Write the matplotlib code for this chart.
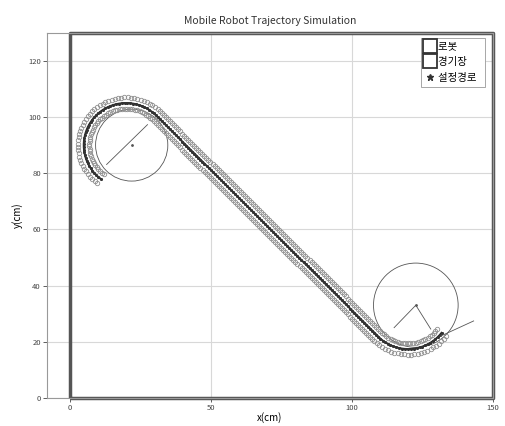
import numpy as np
import matplotlib.pyplot as plt
from matplotlib.lines import Line2D
from matplotlib.patches import Circle

plt.rcParams['font.family'] = ['Noto Sans CJK KR', 'DejaVu Sans']

# arena (경기장) corners, cm
arena_x = [0, 150, 150, 0, 0]
arena_y = [0, 0, 130, 130, 0]

# set path: arc -> straight line -> arc
# (center x, center y, radius, start deg, end deg)
arc1 = (20.0, 90.0, 15.0, 233.0, 45.0)
arc2 = (120.0, 32.4, 15.0, 225.0, 322.0)
step = 1.0  # sample spacing of the robot markers, cm
band = 2.0  # half width of the robot marker band, cm

# guide circles drawn by the simulation (center x, center y, radius)
circle1 = (22.0, 90.0, 12.8)
circle2 = (122.7, 33.0, 15.0)
# heading / look-ahead segments
seg1_x = [13.1, 27.6]
seg1_y = [83.1, 97.3]
seg2a_x = [115.0, 122.7, 128.0]
seg2a_y = [25.0, 33.0, 24.5]
seg2b_x = [131.5, 143.2]
seg2b_y = [22.0, 27.4]

xticks = [0, 50, 100, 150]
yticks = [0, 20, 40, 60, 80, 100, 120]


def arc_pts(c):
    cx, cy, r, a0, a1 = c
    n = max(int(abs(np.radians(a1 - a0)) * r / step), 2)
    t = np.radians(np.linspace(a0, a1, n))
    return cx + r * np.cos(t), cy + r * np.sin(t)


x1, y1 = arc_pts(arc1)
x3, y3 = arc_pts(arc2)
n_line = int(np.hypot(x3[0] - x1[-1], y3[0] - y1[-1]) / step)
x2 = np.linspace(x1[-1], x3[0], n_line)[1:-1]
y2 = np.linspace(y1[-1], y3[0], n_line)[1:-1]
px = np.concatenate([x1, x2, x3])
py = np.concatenate([y1, y2, y3])

# normals for the two rows of robot markers
dx = np.gradient(px)
dy = np.gradient(py)
nl = np.hypot(dx, dy)
nx, ny = -dy / nl, dx / nl

fig = plt.figure(figsize=(5.06, 4.26), dpi=100)
ax = fig.add_axes([0.093, 0.066, 0.881, 0.857])

ax.grid(True, color='#d8d8d8', lw=0.8)
ax.set_axisbelow(True)

for s in (band, -band):
    ax.plot(px + s * nx, py + s * ny, 'o', ms=3.2, mfc='none', mec='#8f8f8f', mew=0.6)
ax.plot(px, py, '-', color='#222222', lw=1.4)
ax.plot(px, py, '*', color='#333333', ms=1.8)

for cx, cy, r in (circle1, circle2):
    ax.add_patch(Circle((cx, cy), r, fill=False, color='#555555', lw=0.6))
    ax.plot(cx, cy, '.', color='#555555', ms=2)
ax.plot(seg1_x, seg1_y, color='#555555', lw=0.6)
ax.plot(seg2a_x, seg2a_y, color='#555555', lw=0.6)
ax.plot(seg2b_x, seg2b_y, color='#555555', lw=0.6)

ax.plot(arena_x, arena_y, color='#555555', lw=2.5, clip_on=False, solid_capstyle='butt')

ax.set_xlim(-8, 150)
ax.set_ylim(0, 130)
ax.set_xticks(xticks)
ax.set_yticks(yticks)
ax.tick_params(labelsize=5.5, length=3, width=0.6, pad=1.5, colors='#444444')
for sp in ax.spines.values():
    sp.set_color('#999999')
    sp.set_linewidth(0.8)

ax.set_title('Mobile Robot Trajectory Simulation', fontsize=7.5, pad=6, color='#333333')
ax.set_xlabel('x(cm)', fontsize=7, labelpad=0)
ax.set_ylabel('y(cm)', fontsize=7, labelpad=4)

handles = [
    Line2D([], [], ls='none', marker='s', ms=10, mfc='none', mec='#333333', mew=1.3),
    Line2D([], [], ls='none', marker='s', ms=10, mfc='none', mec='#333333', mew=1.3),
    Line2D([], [], ls='none', marker='*', ms=5, color='#333333'),
]
labels = ['로봇     ', '경기장    ', '설정경로  ']
leg = ax.legend(handles, labels, loc='upper right', fontsize=7.5, handlelength=1.0,
                handletextpad=0.35, labelspacing=0.55, borderpad=0.35, borderaxespad=0.3,
                fancybox=False, framealpha=1, bbox_to_anchor=(0.99, 0.995))
leg.get_frame().set_edgecolor('#999999')
leg.get_frame().set_linewidth(0.6)

fig.savefig('out.png', dpi=100)
